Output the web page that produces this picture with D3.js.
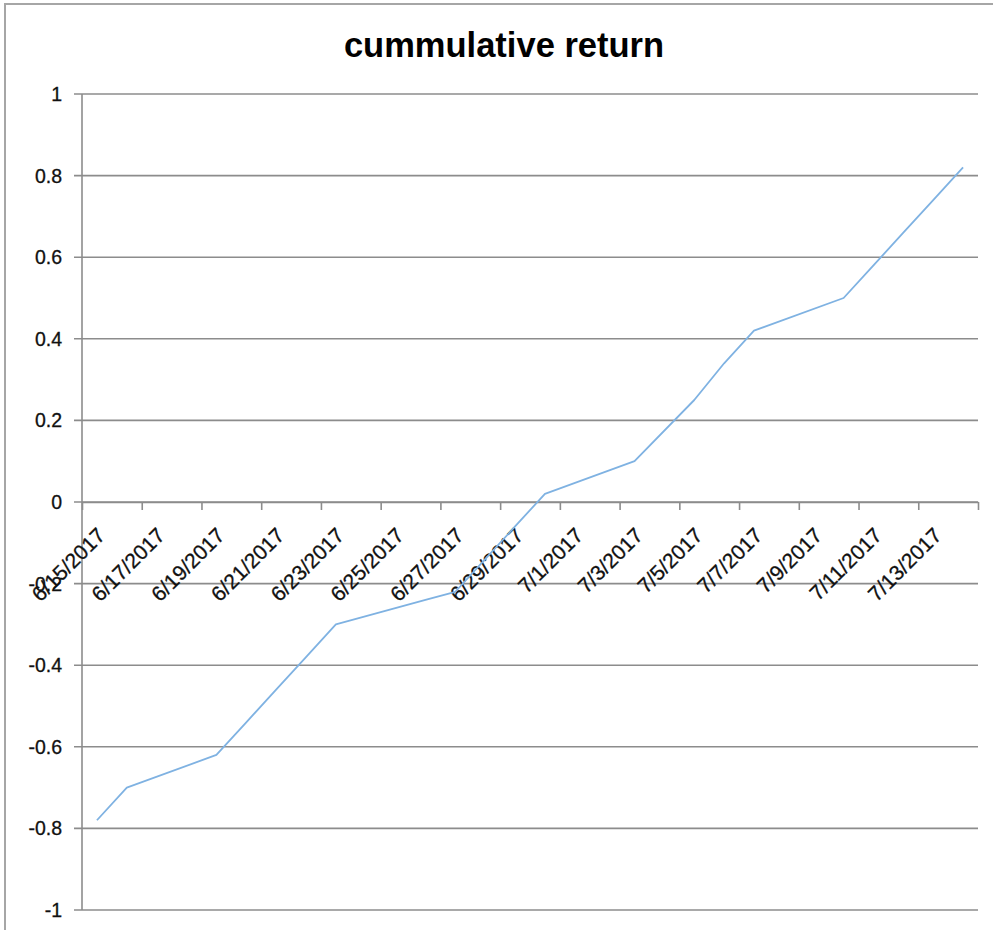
<!DOCTYPE html>
<html>
<head>
<meta charset="utf-8">
<script src="https://cdn.jsdelivr.net/npm/d3@7"></script>
<style>
  html, body { margin: 0; padding: 0; background: #fff; }
  svg { display: block; font-family: "Liberation Sans", Arial, sans-serif; }
</style>
</head>
<body>
<div id="chart"></div>
<script>
// trading days and cumulative return
const dates = [
  '2017-06-15', '2017-06-16', '2017-06-19', '2017-06-20', '2017-06-21', '2017-06-22', '2017-06-23',
  '2017-06-26', '2017-06-27', '2017-06-28', '2017-06-29', '2017-06-30',
  '2017-07-03', '2017-07-05', '2017-07-06', '2017-07-07',
  '2017-07-10', '2017-07-11', '2017-07-12', '2017-07-13', '2017-07-14',
];
const returns = [
  -0.78, -0.70, -0.62, -0.54, -0.46, -0.38, -0.30,
  -0.24, -0.22, -0.14, -0.06, 0.02,
  0.10, 0.25, 0.34, 0.42,
  0.50, 0.58, 0.66, 0.74, 0.82,
];
const yTicks = [-1, -0.8, -0.6, -0.4, -0.2, 0, 0.2, 0.4, 0.6, 0.8, 1];
const axisStart = '2017-06-15';
const axisEnd = '2017-07-15';
const title = 'cummulative return';

const width = 993;
const height = 930;
const plot = { left: 82, right: 978, top: 94, bottom: 910 };
const gridColor = '#8c8c8c';
const textColor = '#111';

const parse = d3.utcParse('%Y-%m-%d');
const fmtDate = d3.utcFormat('%-m/%-d/%Y');

const data = dates.map((d, i) => ({ date: parse(d), value: returns[i] }));

const x = d3.scaleUtc()
  .domain([parse(axisStart), parse(axisEnd)])
  .range([plot.left, plot.right]);

const y = d3.scaleLinear()
  .domain([-1, 1])
  .range([plot.bottom, plot.top]);

// points sit in the middle of their day
const midDay = d => d3.utcHour.offset(d, 12);

const svg = d3.select('#chart').append('svg')
  .attr('width', width)
  .attr('height', height);

// chart frame
svg.append('rect')
  .attr('x', 5)
  .attr('y', 4)
  .attr('width', width + 20)
  .attr('height', height + 20)
  .attr('fill', 'none')
  .attr('stroke', '#a6a6a6')
  .attr('stroke-width', 2);

svg.append('text')
  .attr('x', 504)
  .attr('y', 56.5)
  .attr('text-anchor', 'middle')
  .attr('font-size', 34.5)
  .attr('font-weight', 'bold')
  .attr('fill', '#000')
  .text(title);

// horizontal gridlines, with the little tick stub to the left
svg.append('g')
  .selectAll('line')
  .data(yTicks)
  .join('line')
  .attr('x1', plot.left - 8)
  .attr('x2', plot.right)
  .attr('y1', d => y(d))
  .attr('y2', d => y(d))
  .attr('stroke', gridColor)
  .attr('stroke-width', 1.6);

svg.append('g')
  .selectAll('text')
  .data(yTicks)
  .join('text')
  .attr('x', 62)
  .attr('y', d => y(d) + 7)
  .attr('text-anchor', 'end')
  .attr('font-size', 19.5)
  .attr('stroke', textColor)
  .attr('stroke-width', 0.3)
  .attr('fill', textColor)
  .text(d => String(+d.toFixed(1)));

// vertical axis line
svg.append('line')
  .attr('x1', plot.left)
  .attr('x2', plot.left)
  .attr('y1', plot.top)
  .attr('y2', plot.bottom)
  .attr('stroke', gridColor)
  .attr('stroke-width', 1.6);

// date axis crosses at zero
const xTicks = d3.utcDay.every(2).range(x.domain()[0], d3.utcDay.offset(x.domain()[1], 1));

const xAxis = svg.append('g')
  .attr('transform', `translate(0,${y(0)})`)
  .call(d3.axisBottom(x).tickValues(xTicks).tickSizeInner(8).tickSizeOuter(0).tickFormat(''));

xAxis.select('.domain').attr('stroke', gridColor).attr('stroke-width', 1.6);
xAxis.selectAll('.tick line').attr('stroke', gridColor).attr('stroke-width', 1.6);

svg.append('g')
  .selectAll('text')
  .data(xTicks.filter(d => d < x.domain()[1]))
  .join('text')
  .attr('transform', d => `translate(${x(midDay(d)) - 1},526) rotate(-45)`)
  .attr('dy', '0.72em')
  .attr('text-anchor', 'end')
  .attr('font-size', 21)
  .attr('stroke', textColor)
  .attr('stroke-width', 0.3)
  .attr('fill', textColor)
  .text(d => fmtDate(d));

const line = d3.line()
  .x(d => x(midDay(d.date)))
  .y(d => y(d.value));

svg.append('path')
  .datum(data)
  .attr('d', line)
  .attr('fill', 'none')
  .attr('stroke', '#7fb2e2')
  .attr('stroke-width', 1.8)
  .attr('stroke-linejoin', 'round');
</script>
</body>
</html>
